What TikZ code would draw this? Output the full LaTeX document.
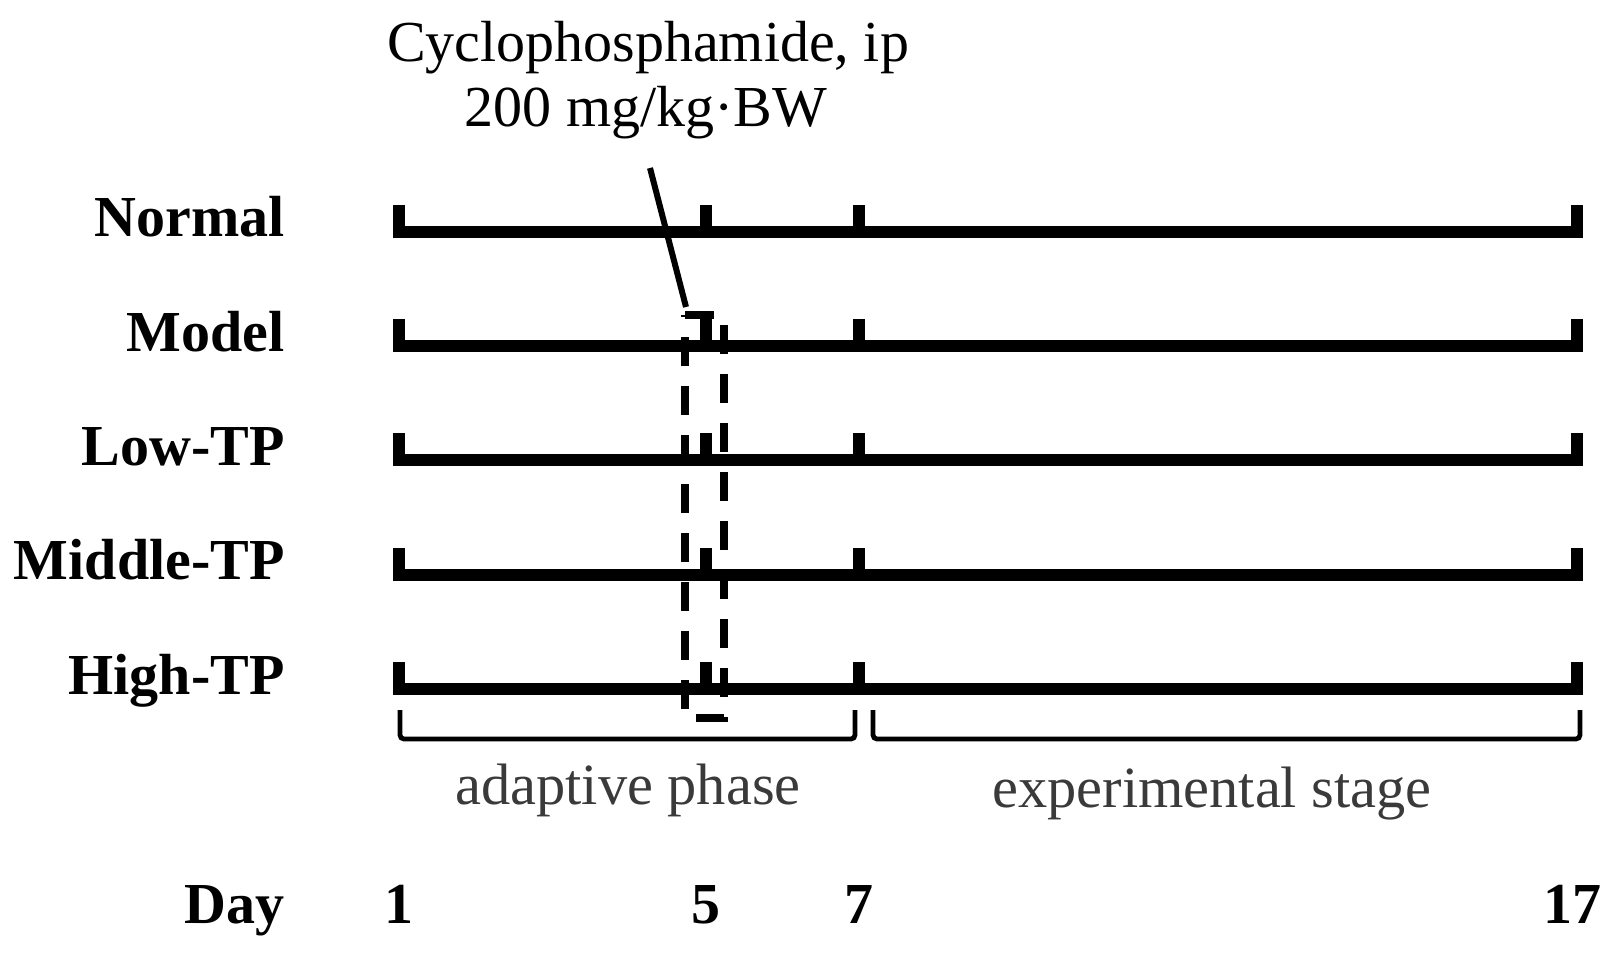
\documentclass[tikz,border=0pt]{standalone}
\usepackage{fontspec}
\setmainfont{Liberation Serif}
\definecolor{phasegray}{HTML}{3A3A3A}
\begin{document}
\begin{tikzpicture}[x=0.5pt,y=-0.5pt,
  rowlabel/.style={anchor=base east, font=\fontsize{29}{30}\selectfont\bfseries, inner sep=0pt},
  daylabel/.style={anchor=base, font=\fontsize{29}{30}\selectfont\bfseries, inner sep=0pt},
  phase/.style={anchor=base, font=\fontsize{29.2}{30}\selectfont, text=phasegray, inner sep=0pt},
  note/.style={anchor=base, font=\fontsize{29}{30}\selectfont, inner sep=0pt},
  timeline/.style={line width=6pt, line join=miter},
  tickmark/.style={line width=6pt},
  dashbox/.style={line width=3.6pt, dash pattern=on 14.5pt off 10pt},
  bracket/.style={line width=2.4pt, rounded corners=2pt},
  leader/.style={line width=3pt},
]
\useasboundingbox (0,0) rectangle (1615,961);

% timelines
\foreach \lab [count=\i from 0] in {Normal,Model,Low-TP,Middle-TP,High-TP}{
  \pgfmathsetmacro\yy{232+114.25*\i}
  \pgfmathsetmacro\yt{\yy-27}
  \node[rowlabel] (row\i) at (285,{\yy+5}) {\lab};
  \coordinate (s\i) at (399,\yy);
  \coordinate (e\i) at (1577,\yy);
  \draw[timeline] (399,\yt) -- (s\i) -- (e\i) -- (1577,\yt);
  \draw[tickmark] (706,\yy) -- (706,\yt);
  \draw[tickmark] (859,\yy) -- (859,\yt);
}

% dashed injection window
\coordinate (btl) at (685,315);
\coordinate (btr) at (724,315);
\coordinate (bbr) at (724,718);
\coordinate (bbl) at (685,718);
\draw[dashbox] (btl) -- (btr) -- (bbr) -- (bbl) -- cycle;

% annotation
\node[note] (cyc1) at (648,62) {Cyclophosphamide, ip};
\node[note] (cyc2) at (646,127) {200 mg/kg·BW};
\coordinate (leadtop) at (650,168);
\coordinate (leadbot) at (686,307);
\draw[leader] (leadtop) -- (leadbot);

% phase brackets
\draw[bracket] (400,710) -- (400,739) -- (855,739) -- (855,710);
\draw[bracket] (873,710) -- (873,739) -- (1580,739) -- (1580,710);
\node[phase] (adapt) at (628,804) {adaptive phase};
\node[phase] (exper) at (1212,807) {experimental stage};

% day axis
\node[rowlabel] (day) at (285,923) {Day};
\node[daylabel] (d1) at (399,923) {1};
\node[daylabel] (d5) at (706,923) {5};
\node[daylabel] (d7) at (859,923) {7};
\node[daylabel] (d17) at (1572,923) {17};
\end{tikzpicture}
\end{document}
